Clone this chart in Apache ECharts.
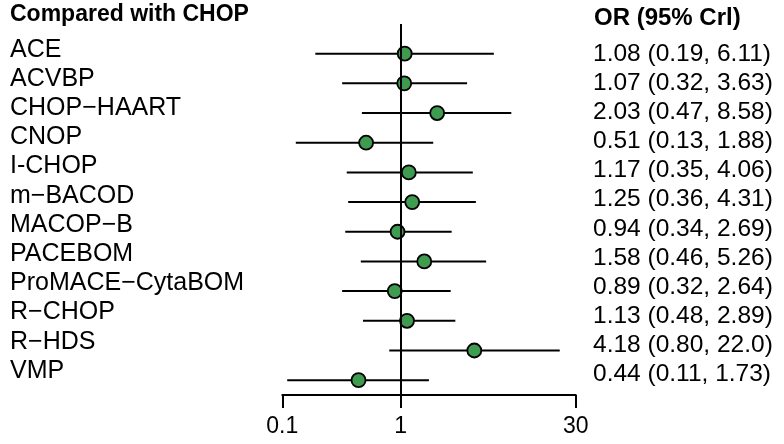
<!DOCTYPE html>
<html>
<head>
<meta charset="utf-8">
<script src="https://cdn.jsdelivr.net/npm/echarts@6/dist/echarts.min.js"></script>
<style>
  html, body { margin: 0; padding: 0; background: #fff; }
  #chart { width: 784px; height: 444px; }
</style>
</head>
<body>
<div id="chart"></div>
<script>
// ---- data ----
var treatments = ['ACE', 'ACVBP', 'CHOP\u2212HAART', 'CNOP', 'I-CHOP', 'm\u2212BACOD', 'MACOP\u2212B',
    'PACEBOM', 'ProMACE\u2212CytaBOM', 'R\u2212CHOP', 'R\u2212HDS', 'VMP'];
var orMid = [1.08, 1.07, 2.03, 0.51, 1.17, 1.25, 0.94, 1.58, 0.89, 1.13, 4.18, 0.44];
var orLow = [0.19, 0.32, 0.47, 0.13, 0.35, 0.36, 0.34, 0.46, 0.32, 0.48, 0.80, 0.11];
var orHigh = [6.11, 3.63, 8.58, 1.88, 4.06, 4.31, 2.69, 5.26, 2.64, 2.89, 22.0, 1.73];
var orText = ['1.08 (0.19, 6.11)', '1.07 (0.32, 3.63)', '2.03 (0.47, 8.58)', '0.51 (0.13, 1.88)',
    '1.17 (0.35, 4.06)', '1.25 (0.36, 4.31)', '0.94 (0.34, 2.69)', '1.58 (0.46, 5.26)',
    '0.89 (0.32, 2.64)', '1.13 (0.48, 2.89)', '4.18 (0.80, 22.0)', '0.44 (0.11, 1.73)'];
var xTicks = [0.1, 1, 30];

var FONT = 'Liberation Sans, Arial, sans-serif';

var chart = echarts.init(document.getElementById('chart'));

// rows counted from the bottom: VMP = 1 ... ACE = 12
var n = treatments.length;
var ciData = treatments.map(function (t, i) { return [orLow[i], orHigh[i], n - i]; });
var ptData = treatments.map(function (t, i) { return [orMid[i], n - i]; });

var option = {
    animation: false,
    backgroundColor: '#fff',
    graphic: [
        { type: 'text', left: 10, top: 3,
          style: { text: 'Compared with CHOP', font: 'bold 23px ' + FONT, fill: '#000' } },
        { type: 'text', left: 594, top: 6,
          style: { text: 'OR (95% Crl)', font: 'bold 24px ' + FONT, fill: '#000' } }
    ],
    grid: [
        { left: 282.3, right: 208.3, top: 24, bottom: 49 },
        { left: 300, width: 1, top: 35.3, bottom: 58.6 },
        { left: 593, width: 1, top: 39.65, bottom: 55.15 }
    ],
    xAxis: [{
        gridIndex: 0,
        type: 'log',
        logBase: 10,
        min: 0.1,
        max: 30,
        axisLine: { lineStyle: { color: '#000', width: 2 } },
        axisTick: { customValues: xTicks, length: 13, lineStyle: { color: '#000', width: 2 } },
        axisLabel: {
            customValues: xTicks,
            margin: 20,
            fontSize: 23,
            fontFamily: FONT,
            color: '#000',
            formatter: function (v) { return String(+v.toPrecision(3)); }
        },
        splitLine: { show: false }
    }, {
        gridIndex: 1, type: 'value', show: false
    }, {
        gridIndex: 2, type: 'value', show: false
    }],
    yAxis: [{
        gridIndex: 0,
        type: 'value',
        min: 0.5,
        max: 13,
        show: false
    }, {
        gridIndex: 1,
        type: 'category',
        inverse: true,
        data: treatments,
        axisLine: { show: false },
        axisTick: { show: false },
        axisLabel: { interval: 0, align: 'left', margin: 290, fontSize: 25, fontFamily: FONT, color: '#000' }
    }, {
        gridIndex: 2,
        type: 'category',
        inverse: true,
        data: orText,
        axisLine: { show: false },
        axisTick: { show: false },
        axisLabel: { interval: 0, align: 'left', margin: 0, fontSize: 24.5, fontFamily: FONT, color: '#000' }
    }],
    series: [{
        type: 'custom',
        xAxisIndex: 0,
        yAxisIndex: 0,
        data: ciData,
        renderItem: function (params, api) {
            var a = api.coord([api.value(0), api.value(2)]);
            var b = api.coord([api.value(1), api.value(2)]);
            return {
                type: 'line',
                shape: { x1: a[0], y1: a[1], x2: b[0], y2: b[1] },
                style: { stroke: '#000', lineWidth: 2 }
            };
        },
        encode: { x: [0, 1], y: 2 },
        markLine: {
            silent: true,
            symbol: 'none',
            label: { show: false },
            lineStyle: { color: '#000', width: 2, type: 'solid' },
            data: [{ xAxis: 1 }]
        },
        z: 2
    }, {
        type: 'scatter',
        xAxisIndex: 0,
        yAxisIndex: 0,
        data: ptData,
        symbol: 'circle',
        symbolSize: 14,
        itemStyle: { color: '#3e9b4f', borderColor: '#000', borderWidth: 1.8, opacity: 1 },
        z: 3
    }]
};

chart.setOption(option);
</script>
</body>
</html>
